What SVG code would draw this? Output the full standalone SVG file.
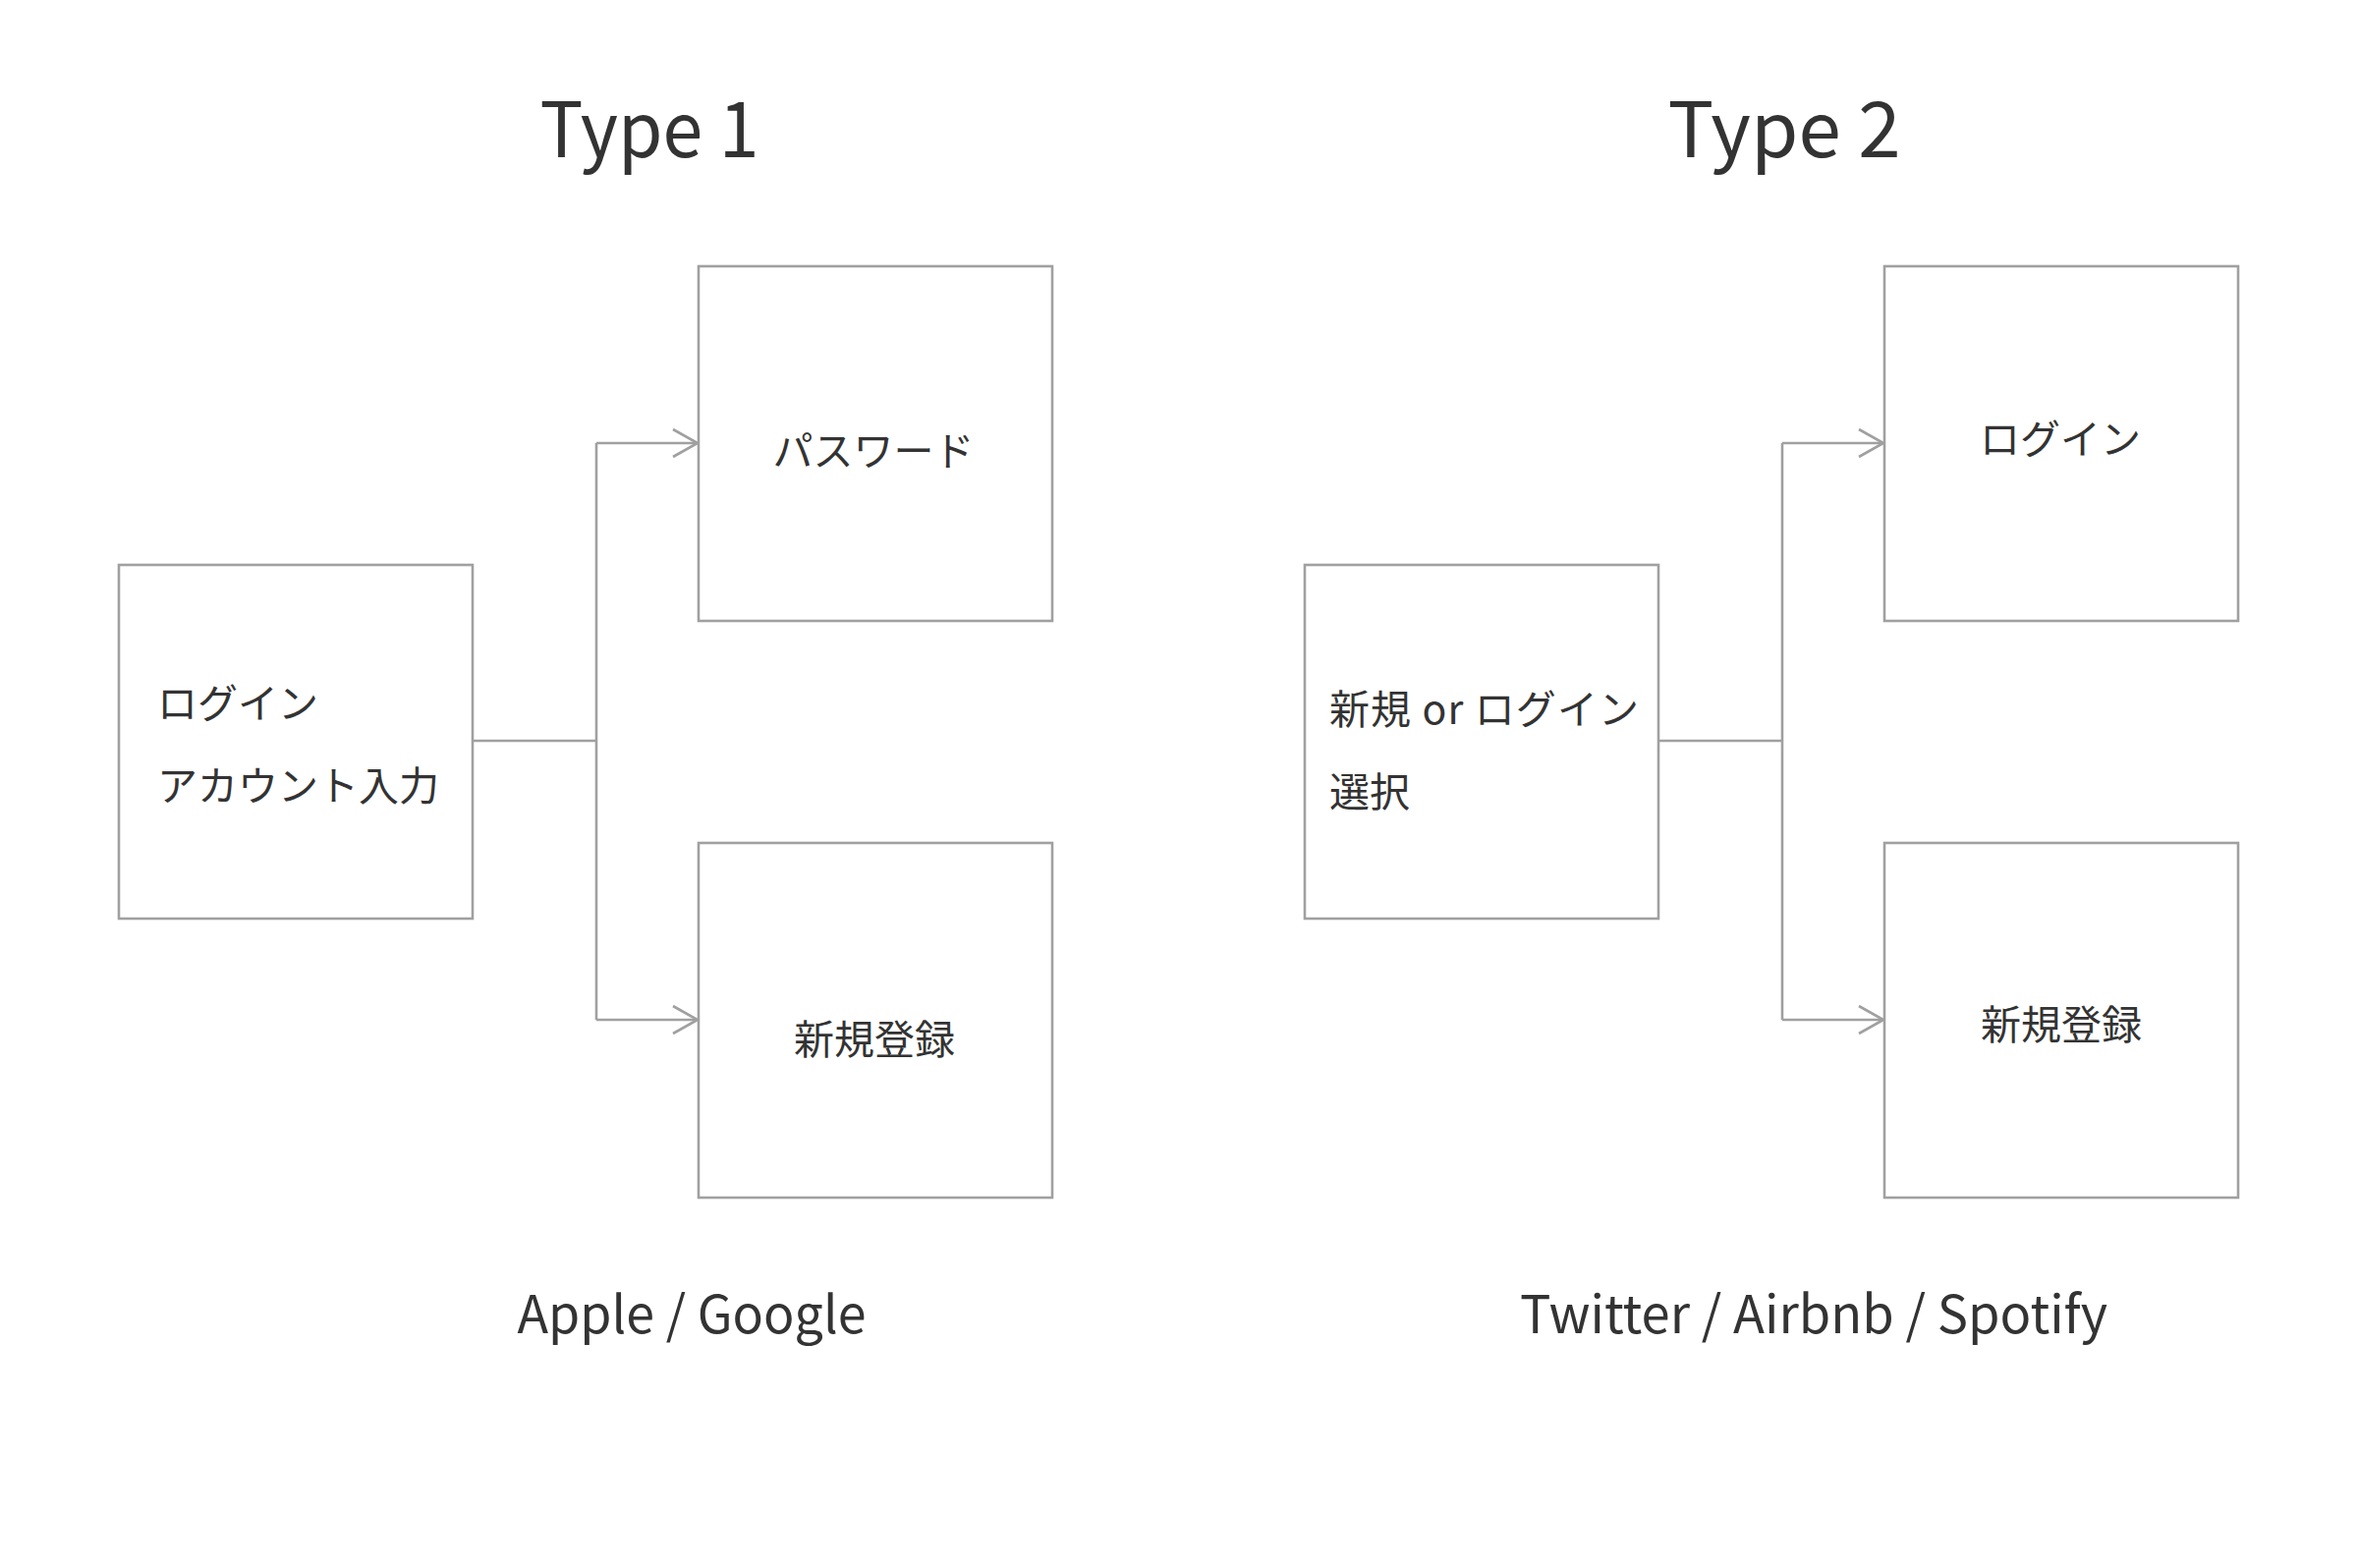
<svg xmlns="http://www.w3.org/2000/svg" width="2400" height="1596" viewBox="0 0 2400 1596">
  <defs>
    <style>
      .box { fill: #ffffff; stroke: #a0a0a0; stroke-width: 2.6; }
      .conn { fill: none; stroke: #a0a0a0; stroke-width: 2.6; }
      .t { font-family: "Noto Sans CJK JP", "Noto Sans", "Liberation Sans", sans-serif; fill: #333333; font-weight: 400; }
      .lbl { font-size: 41px; }
      .title { font-size: 78px; }
      .sub { font-size: 53px; }
    </style>
    <marker id="arrow" viewBox="-28 -16 31 32" refX="0" refY="0" markerWidth="31" markerHeight="32" markerUnits="userSpaceOnUse" orient="auto">
      <path d="M-25,-14 L0,0 L-25,14" fill="none" stroke="#a0a0a0" stroke-width="2.6"/>
    </marker>
  </defs>
  <rect x="0" y="0" width="2400" height="1596" fill="#ffffff"/>

  <text class="t title" x="661" y="160" text-anchor="middle" textLength="223" lengthAdjust="spacingAndGlyphs">Type 1</text>
  <text class="t title" x="1816" y="160" text-anchor="middle" textLength="237" lengthAdjust="spacingAndGlyphs">Type 2</text>

  <g id="connectors">
    <path class="conn" d="M481,754 H607"/>
    <path class="conn" d="M607,451 V1038"/>
    <path class="conn" d="M607,451 H710" marker-end="url(#arrow)"/>
    <path class="conn" d="M607,1038 H710" marker-end="url(#arrow)"/>
    <path class="conn" d="M1688,754 H1814"/>
    <path class="conn" d="M1814,451 V1038"/>
    <path class="conn" d="M1814,451 H1917" marker-end="url(#arrow)"/>
    <path class="conn" d="M1814,1038 H1917" marker-end="url(#arrow)"/>
  </g>

  <g id="node-login-account">
    <rect class="box" x="121" y="575" width="360" height="360"/>
    <text class="t lbl" x="160" y="731">ログイン</text>
    <text class="t lbl" x="160" y="815">アカウント入力</text>
  </g>
  <g id="node-password">
    <rect class="box" x="711" y="271" width="360" height="361"/>
    <text class="t lbl" x="889" y="474" text-anchor="middle">パスワード</text>
  </g>
  <g id="node-signup-1">
    <rect class="box" x="711" y="858" width="360" height="361"/>
    <text class="t lbl" x="890" y="1073" text-anchor="middle">新規登録</text>
  </g>

  <g id="node-select">
    <rect class="box" x="1328" y="575" width="360" height="360"/>
    <text class="t lbl" x="1353" y="737" textLength="315" lengthAdjust="spacing">新規 or ログイン</text>
    <text class="t lbl" x="1353" y="821">選択</text>
  </g>
  <g id="node-login">
    <rect class="box" x="1918" y="271" width="360" height="361"/>
    <text class="t lbl" x="2097" y="462" text-anchor="middle">ログイン</text>
  </g>
  <g id="node-signup-2">
    <rect class="box" x="1918" y="858" width="360" height="361"/>
    <text class="t lbl" x="2098" y="1058" text-anchor="middle">新規登録</text>
  </g>

  <text class="t sub" x="704" y="1357" text-anchor="middle" textLength="355" lengthAdjust="spacingAndGlyphs">Apple / Google</text>
  <text class="t sub" x="1846" y="1357" text-anchor="middle" textLength="598" lengthAdjust="spacingAndGlyphs">Twitter / Airbnb / Spotify</text>
</svg>
